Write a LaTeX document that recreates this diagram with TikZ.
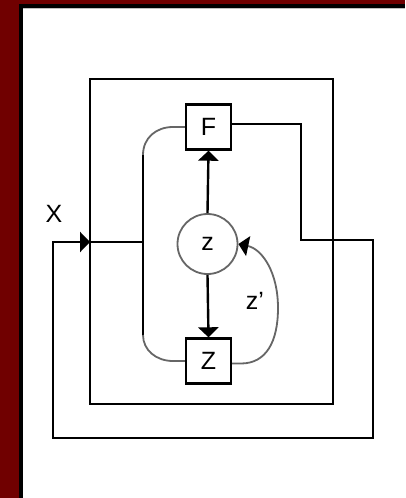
\documentclass[tikz,border=0pt]{standalone}
\usepackage{fontspec}
\setmainfont{Liberation Sans}
\usetikzlibrary{arrows.meta}
\definecolor{maroon}{HTML}{700000}
\begin{document}
\begin{tikzpicture}[x=1pt,y=-1pt,
  wire/.style={line width=2.4pt},
  soft/.style={line width=1.8pt, draw=black!60},
  tip/.style={-{Triangle[length=10pt,width=20pt,color=black]}},
  lab/.style={font=\fontsize{25}{25}\selectfont},
  box/.style={draw, line width=2.4pt, minimum size=45pt, inner sep=0pt, lab}]
\useasboundingbox (0,0) rectangle (405,498);
\fill[white] (0,0) rectangle (405,498);
\fill[maroon] (0,0) rectangle (405,4);
\fill[maroon] (0,0) rectangle (19,498);
\fill[black] (19,4) rectangle (405,8);
\fill[black] (19,4) rectangle (23,498);
\draw[black!25, line width=0.6pt] (23,8.6) -- (405,8.6);

% frame
\draw[wire] (90,79) rectangle (333,404);

% nodes
\node[box] (F) at (208.5,127) {F};
\node[box] (Z) at (208.5,361) {Z};
\node[circle, draw=black!60, line width=1.8pt, minimum size=60pt, inner sep=0pt, lab] (zc) at (207.5,244) {z};
\node[lab] (X) at (54,213.5) {X};
\node[lab] (zp) at (255,301) {z'};

% coordinates
\coordinate (J) at (143,242);
\coordinate (In) at (90,242);
\coordinate (Fa) at (173,127);
\coordinate (Lt) at (143,155);
\coordinate (Lb) at (143,335);
\coordinate (Za) at (173,361);
\coordinate (R1) at (301,124);
\coordinate (R2) at (301,240);
\coordinate (R3) at (373,240);
\coordinate (R4) at (373,438);
\coordinate (R5) at (53,438);
\coordinate (R6) at (53,242);
\coordinate (Zr) at (241,363.5);
\coordinate (Cr) at (278,308);

% vertical arrows
\draw[wire, tip] (zc.north) -- (F.south);
\draw[wire, tip] (zc.south) -- (Z.north);

% left connector
\draw[soft] (F.west) -- (Fa) .. controls (156,127) and (143,138) .. (Lt);
\draw[wire] (Lt) -- (Lb);
\draw[soft] (Lb) .. controls (143,350) and (156,361) .. (Za) -- (Z.west);
\draw[wire] (In) -- (J);

% outer loop
\draw[wire, tip] ([yshift=3pt]F.east) -- (R1) -- (R2) -- (R3) -- (R4) -- (R5) -- (R6) -- (In);

% z' loop
\draw[soft, tip] ([yshift=-2.5pt]Z.east) -- (Zr) .. controls (266,363.5) and (278,342) .. (Cr) .. controls (278,272) and (262,249) .. (zc.east);
\end{tikzpicture}
\end{document}
